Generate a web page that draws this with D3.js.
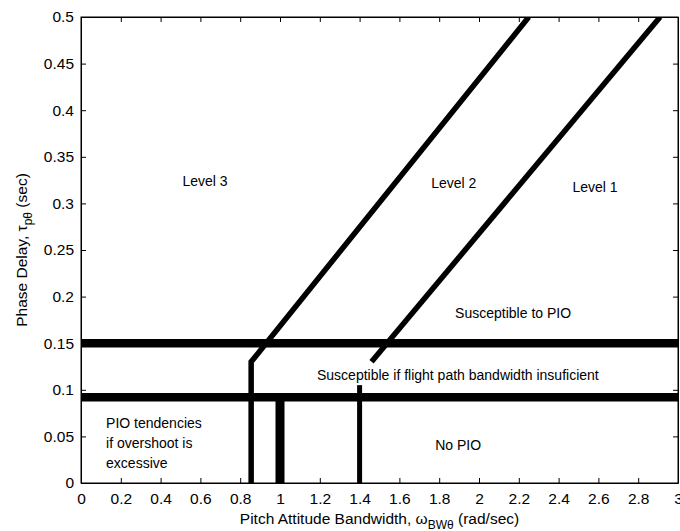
<!DOCTYPE html>
<html>
<head>
<meta charset="utf-8">
<script src="https://cdn.jsdelivr.net/npm/d3@7"></script>
<style>
  body { margin: 0; background: #fff; }
  svg { font-family: 'Liberation Sans', Arial, sans-serif; }
  .axis text { font-size: 15.5px; fill: #000; }
  .axis path, .axis line { stroke: #000; }
  .note { font-size: 14px; fill: #000; }
</style>
</head>
<body>
<svg id="chart" width="680" height="531"></svg>
<script>
const xTicks = [0, 0.2, 0.4, 0.6, 0.8, 1, 1.2, 1.4, 1.6, 1.8, 2, 2.2, 2.4, 2.6, 2.8, 3]
const yTicks = [0, 0.05, 0.1, 0.15, 0.2, 0.25, 0.3, 0.35, 0.4, 0.45, 0.5]

// level 2/3 boundary (vertical stub then sloped line)
const level3Boundary = [[0.855, 0], [0.855, 0.13], [2.25, 0.5]]
// level 1/2 boundary
const level1Boundary = [[1.46, 0.13], [2.91, 0.5]]
// horizontal PIO limits
const pioLimits = [0.15, 0.092]
// short vertical markers: [bandwidth, top]
const thickMarker = [1.0, 0.092]
const thinMarker = [1.4, 0.105]

const notes = [
  { text: 'Level 3', x: 0.51, y: 0.319 },
  { text: 'Level 2', x: 1.76, y: 0.316 },
  { text: 'Level 1', x: 2.47, y: 0.312 },
  { text: 'Susceptible to PIO', x: 1.88, y: 0.177 },
  { text: 'Susceptible if flight path bandwidth insuficient', x: 1.186, y: 0.110 },
  { text: 'PIO tendencies', x: 0.126, y: 0.059 },
  { text: 'if overshoot is', x: 0.126, y: 0.038 },
  { text: 'excessive', x: 0.126, y: 0.016 },
  { text: 'No PIO', x: 1.78, y: 0.035 }
]

const margin = { top: 17, right: 2, bottom: 48, left: 81 }
const width = 680 - margin.left - margin.right
const height = 531 - margin.top - margin.bottom

const svg = d3.select('#chart')
  .append('g')
  .attr('transform', `translate(${margin.left},${margin.top})`)

const x = d3.scaleLinear().domain([0, 3]).range([0, width])
const y = d3.scaleLinear().domain([0, 0.5]).range([height, 0])

const fmt = d => String(+d.toFixed(2))

svg.append('g')
  .attr('class', 'axis')
  .attr('transform', `translate(0,${height})`)
  .call(d3.axisBottom(x).tickValues(xTicks).tickFormat(fmt).tickSizeInner(-5).tickSizeOuter(0).tickPadding(10))
svg.append('g')
  .attr('class', 'axis')
  .call(d3.axisLeft(y).tickValues(yTicks).tickFormat(fmt).tickSizeInner(-5).tickSizeOuter(0).tickPadding(7))
svg.append('g')
  .attr('class', 'axis')
  .call(d3.axisTop(x).tickValues(xTicks).tickFormat('').tickSizeInner(-5).tickSizeOuter(0))
svg.append('g')
  .attr('class', 'axis')
  .attr('transform', `translate(${width},0)`)
  .call(d3.axisRight(y).tickValues(yTicks).tickFormat('').tickSizeInner(-5).tickSizeOuter(0))

const clip = svg.append('clipPath').attr('id', 'plotClip')
clip.append('rect').attr('width', width).attr('height', height)

const marks = svg.append('g').attr('clip-path', 'url(#plotClip)')
const line = d3.line().x(d => x(d[0])).y(d => y(d[1]))

marks.selectAll('.limit')
  .data(pioLimits)
  .enter().append('line')
  .attr('class', 'limit')
  .attr('x1', x(0))
  .attr('x2', x(3))
  .attr('y1', d => y(d))
  .attr('y2', d => y(d))
  .attr('stroke', '#000')
  .attr('stroke-width', 8.5)

marks.append('line')
  .attr('x1', x(thickMarker[0])).attr('x2', x(thickMarker[0]))
  .attr('y1', y(0)).attr('y2', y(thickMarker[1]))
  .attr('stroke', '#000').attr('stroke-width', 9)

marks.append('line')
  .attr('x1', x(thinMarker[0])).attr('x2', x(thinMarker[0]))
  .attr('y1', y(0)).attr('y2', y(thinMarker[1]))
  .attr('stroke', '#000').attr('stroke-width', 5)

marks.append('path')
  .datum(level3Boundary)
  .attr('d', line)
  .attr('fill', 'none')
  .attr('stroke', '#000')
  .attr('stroke-width', 5.5)

marks.append('path')
  .datum(level1Boundary)
  .attr('d', line)
  .attr('fill', 'none')
  .attr('stroke', '#000')
  .attr('stroke-width', 5.5)

svg.selectAll('.note')
  .data(notes)
  .enter().append('text')
  .attr('class', 'note')
  .attr('x', d => x(d.x))
  .attr('y', d => y(d.y))
  .text(d => d.text)

// axis titles
const xTitle = svg.append('text')
  .attr('x', width / 2)
  .attr('y', height + 41)
  .attr('text-anchor', 'middle')
  .attr('font-size', 15.5)
xTitle.append('tspan').text('Pitch Attitude Bandwidth, \u03c9')
xTitle.append('tspan').attr('font-size', 12).attr('dy', 5).text('BW\u03b8')
xTitle.append('tspan').attr('dy', -5).text(' (rad/sec)')

const yTitle = svg.append('text')
  .attr('transform', `translate(${-54},${height / 2}) rotate(-90)`)
  .attr('text-anchor', 'middle')
  .attr('font-size', 15.5)
yTitle.append('tspan').text('Phase Delay, \u03c4')
yTitle.append('tspan').attr('font-size', 12).attr('dy', 5).text('p\u03b8')
yTitle.append('tspan').attr('dy', -5).text(' (sec)')

svg.append('rect')
  .attr('width', width)
  .attr('height', height)
  .attr('fill', 'none')
  .attr('stroke', '#000')
</script>
</body>
</html>
